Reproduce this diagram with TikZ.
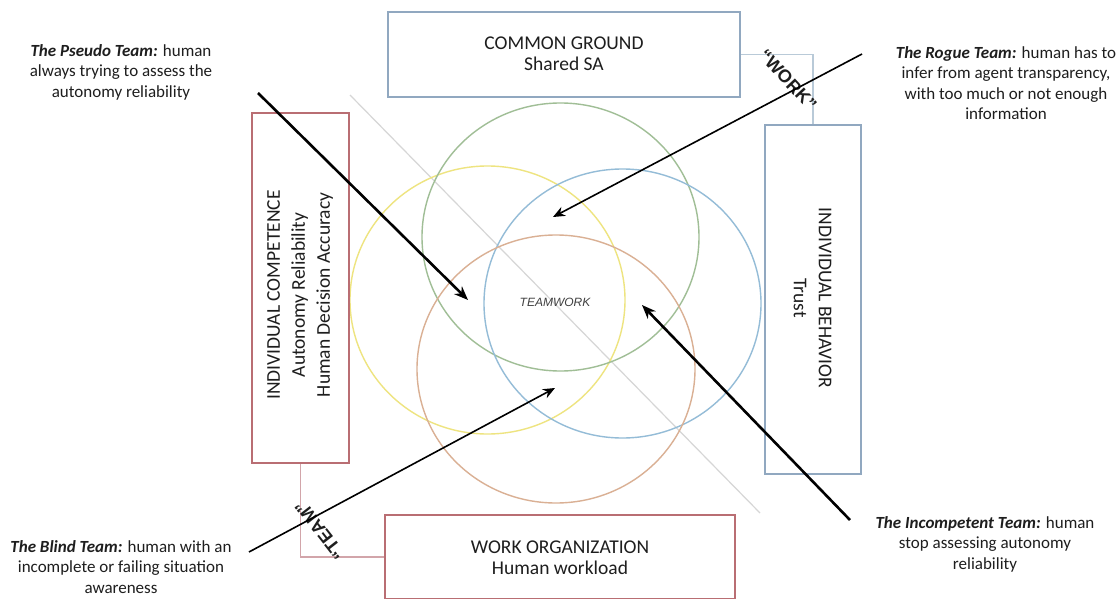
\documentclass[tikz,border=0pt]{standalone}
\usepackage{fontspec}
\setmainfont{Carlito}
\newfontfamily\arialf{Liberation Sans}
\usetikzlibrary{arrows.meta}
\definecolor{cyel}{RGB}{238,228,128}
\definecolor{cgrn}{RGB}{160,190,150}
\definecolor{cblu}{RGB}{148,188,215}
\definecolor{corg}{RGB}{218,176,148}
\definecolor{boxred}{RGB}{185,110,115}
\definecolor{boxblu}{RGB}{145,168,192}
\definecolor{lnblu}{RGB}{185,202,216}
\definecolor{lnred}{RGB}{210,165,170}
\definecolor{diag}{RGB}{214,214,214}
\definecolor{txt}{RGB}{30,30,30}
\tikzset{
  bx/.style={draw, line width=1.5pt, inner sep=0pt},
  boxtext/.style={font=\fontsize{19.5}{21}\selectfont, align=center, text=txt, inner sep=0pt},
  sidetext/.style={font=\fontsize{19.5}{25}\selectfont, align=center, text=txt, inner sep=0pt},
  note/.style={font=\fontsize{17}{20.5}\selectfont, align=center, text=txt, inner sep=0pt},
  ring/.style={line width=1.4pt},
  thickarrow/.style={line width=2.6pt, -{Stealth[length=14pt,width=11pt]}},
  thinarrow/.style={line width=1.6pt, -{Stealth[length=12pt,width=10pt]}},
  conn/.style={line width=1.3pt},
  quote/.style={font=\arialf\bfseries\fontsize{18}{18}\selectfont, text=txt, inner sep=0pt}
}
\begin{document}
\begin{tikzpicture}[x=1pt,y=-1pt]
\useasboundingbox[fill=white] (0,0) rectangle (1117,599);
% diagonal
\coordinate (d1) at (350,95);
\coordinate (d2) at (760,513);
\draw[diag, line width=1.2pt] (d1) -- (d2);
% rings
\draw[ring, cyel] (487.5,300) ellipse [x radius=137.5pt, y radius=134pt];
\draw[ring, cgrn] (560.5,237) ellipse [x radius=138.5pt, y radius=134pt];
\draw[ring, cblu] (622.5,303.5) ellipse [x radius=138.5pt, y radius=134.5pt];
\draw[ring, corg] (556,369) ellipse [x radius=139pt, y radius=134pt];
\node[font=\arialf\itshape\fontsize{12}{12}\selectfont, text=txt!85, inner sep=0pt] (tw) at (555,302) {TEAMWORK};
% boxes
\node[bx, draw=boxblu, minimum width=352pt, minimum height=85pt] (cg) at (564,54.5) {};
\node[boxtext] (cgt) at (564,54) {COMMON GROUND\\Shared SA};
\node[bx, draw=boxred, minimum width=97pt, minimum height=350pt] (ic) at (300.5,288) {};
\node[sidetext, rotate=90] (ict) at (300,295) {INDIVIDUAL COMPETENCE\\Autonomy Reliability\\Human Decision Accuracy};
\node[bx, draw=boxblu, minimum width=96pt, minimum height=349pt] (ib) at (813,299.5) {};
\node[sidetext, rotate=-90] (ibt) at (812.5,298) {INDIVIDUAL BEHAVIOR\\Trust};
\node[bx, draw=boxred, minimum width=350pt, minimum height=84pt] (wo) at (560,557) {};
\node[boxtext] (wot) at (560,558) {WORK ORGANIZATION\\Human workload};
% connectors
\draw[conn, lnblu] (cg.east) -| (ib.north);
\draw[conn, lnred] (ic.south) |- (wo.west);
% quotes
\node[quote, rotate=-47] (qw) at (788,80) {“WORK”};
\node[quote, rotate=128] (qt) at (320,530) {“TEAM”};
% arrows
\coordinate (ps) at (258,93);
\coordinate (pe) at (468,300);
\draw[thickarrow] (ps) -- (pe);
\coordinate (rs) at (862,54);
\coordinate (re) at (553,217);
\draw[thinarrow] (rs) -- (re);
\coordinate (is) at (850,520);
\coordinate (ie) at (642,305);
\draw[thickarrow] (is) -- (ie);
\coordinate (bs) at (249,552);
\coordinate (be) at (555,388);
\draw[thinarrow] (bs) -- (be);
% notes
\node[note] (pseudo) at (121,72) {\textbf{\textit{The Pseudo Team:}} human\\always trying to assess the\\autonomy reliability};
\node[note] (rogue) at (1006,83) {\textbf{\textit{The Rogue Team:}} human has to\\infer from agent transparency,\\with too much or not enough\\information};
\node[note] (incomp) at (985,544) {\textbf{\textit{The Incompetent Team:}} human\\stop assessing autonomy\\reliability};
\node[note] (blind) at (121,567) {\textbf{\textit{The Blind Team:}} human with an\\incomplete or failing situation\\awareness};
\end{tikzpicture}
\end{document}
